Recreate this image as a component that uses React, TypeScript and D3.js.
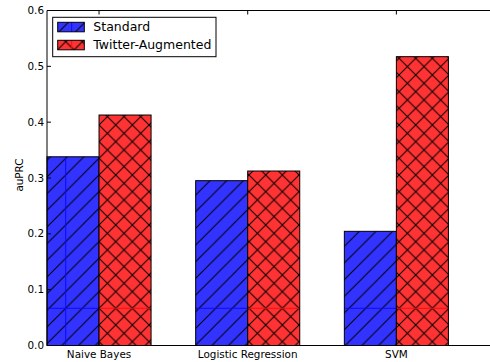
import React from "react";
import * as d3 from "d3";

const categories = ["Naive Bayes", "Logistic Regression", "SVM"];
const seriesNames = ["Standard", "Twitter-Augmented"];
const standardValues = [0.338, 0.2952, 0.2045];
const twitterValues = [0.4128, 0.3125, 0.5173];
const yTicks = [0.0, 0.1, 0.2, 0.3, 0.4, 0.5, 0.6];

const W = 490;
const H = 362;
const barWidth = 0.35;
const FONT = "DejaVu Sans, sans-serif";

const x = d3.scaleLinear().domain([0, 3]).range([47, 47 + 3 * 148.67]);
const y = d3.scaleLinear().domain([0, 0.6]).range([345.5, 10.5]);

const S = 100 / 6;
const TX = 65.7;
const TY = 308.3;

export default function App() {
  const series = [
    { name: seriesNames[0], values: standardValues, fill: "#3333ff", art: "#0a0aff", pat: "hatchSlash", offset: 0 },
    { name: seriesNames[1], values: twitterValues, fill: "#ff3333", art: "#ff0a0a", pat: "hatchCross", offset: barWidth },
  ];
  const fmt = d3.format(".1f");
  const x0 = x.range()[0];
  const x1 = x.range()[1];
  return (
    <svg width={W} height={H} style={{ position: "absolute", left: 0, top: 0 }} xmlns="http://www.w3.org/2000/svg">
      <defs>
        <pattern id="hatchSlash" patternUnits="userSpaceOnUse" x={TX} y={TY} width={S} height={S}>
          <path d={`M0,${S} L${S},0 M-2,2 L2,-2 M${S - 2},${S + 2} L${S + 2},${S - 2}`} stroke="#000" strokeWidth={1} />
        </pattern>
        <pattern id="hatchCross" patternUnits="userSpaceOnUse" x={TX} y={TY} width={S} height={S}>
          <path
            d={`M0,${S} L${S},0 M-2,2 L2,-2 M${S - 2},${S + 2} L${S + 2},${S - 2} M0,0 L${S},${S} M-2,${S - 2} L2,${S + 2} M${S - 2},-2 L${S + 2},2`}
            stroke="#000"
            strokeWidth={1}
          />
        </pattern>
      </defs>
      <rect x={0} y={0} width={W} height={H} fill="#fff" />
      {series.map((s) =>
        s.values.map((v, i) => {
          const bx = x(i + s.offset);
          const bw = x(i + s.offset + barWidth) - bx;
          const by = y(v);
          const bh = y(0) - by;
          return (
            <g key={s.name + i}>
              <rect x={bx} y={by} width={bw} height={bh} fill={s.fill} />
              <rect x={bx} y={by} width={bw} height={bh} fill={`url(#${s.pat})`} />
              <line x1={bx} x2={bx + bw} y1={TY} y2={TY} stroke={s.art} strokeWidth={1} />
              {s.offset === 0 && i === 0 && (
                <line x1={TX} x2={TX} y1={by} y2={y(0)} stroke={s.art} strokeWidth={1} />
              )}
              <rect x={bx} y={by} width={bw} height={bh} fill="none" stroke="#000" strokeWidth={1} />
            </g>
          );
        })
      )}
      {/* y ticks */}
      {yTicks.map((t) => (
        <g key={t}>
          <line x1={x0} x2={x0 + 4} y1={y(t)} y2={y(t)} stroke="#000" strokeWidth={1} />
          <text x={44} y={y(t)} dy="0.35em" textAnchor="end" fontFamily={FONT} fontSize={10.4} fill="#000">
            {fmt(t)}
          </text>
        </g>
      ))}
      {/* x ticks */}
      {categories.map((c, i) => (
        <g key={c}>
          <line x1={x(i + barWidth)} x2={x(i + barWidth)} y1={y(0.6)} y2={y(0.6) + 4} stroke="#000" strokeWidth={1} />
          <line x1={x(i + barWidth)} x2={x(i + barWidth)} y1={y(0)} y2={y(0) - 4} stroke="#000" strokeWidth={1} />
          <text x={x(i + barWidth)} y={358} textAnchor="middle" fontFamily={FONT} fontSize={10.4} fill="#000">
            {c}
          </text>
        </g>
      ))}
      {/* spines */}
      <line x1={x0} x2={x1} y1={y(0.6)} y2={y(0.6)} stroke="#000" strokeWidth={1} />
      <line x1={x0} x2={x1} y1={y(0)} y2={y(0)} stroke="#000" strokeWidth={1} />
      <line x1={x0} x2={x0} y1={y(0.6)} y2={y(0)} stroke="#000" strokeWidth={1} />
      {/* y label */}
      <text
        transform={`translate(19,175) rotate(-90)`}
        textAnchor="middle"
        dy="0.35em"
        fontFamily={FONT}
        fontSize={10.4}
        fill="#000"
      >
        auPRC
      </text>
      {/* legend */}
      <rect x={52.7} y={17.3} width={163.3} height={39.4} fill="#fff" stroke="#000" strokeWidth={1} />
      {series.map((s, k) => {
        const py = k === 0 ? 22.3 : 40.3;
        return (
          <g key={s.name}>
            <rect x={57.7} y={py} width={26.6} height={9.5} fill={s.fill} />
            <rect x={57.7} y={py} width={26.6} height={9.5} fill={`url(#${s.pat})`} />
            <line x1={71.7} x2={71.7} y1={py} y2={py + 9.5} stroke={s.art} strokeWidth={1} />
            <rect x={57.7} y={py} width={26.6} height={9.5} fill="none" stroke="#000" strokeWidth={1} />
            <text x={93.3} y={py + 4.75} dy="0.35em" fontFamily={FONT} fontSize={12.5} fill="#000">
              {s.name}
            </text>
          </g>
        );
      })}
    </svg>
  );
}
